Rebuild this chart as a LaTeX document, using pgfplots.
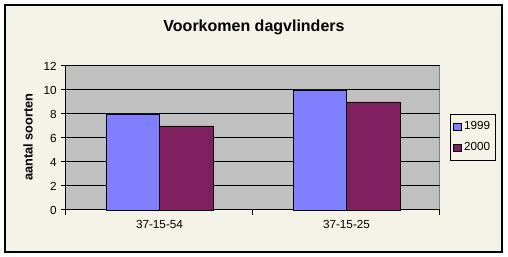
\documentclass[border=0pt]{standalone}
\usepackage{pgfplots}
\pgfplotsset{compat=1.18}
\usepackage{fontspec}
\setmainfont{Liberation Sans}
\definecolor{cream}{HTML}{F5F2E7}
\definecolor{plotgray}{HTML}{C0C0C0}
\definecolor{borgray}{HTML}{808080}
\definecolor{cA}{HTML}{8080FF}
\definecolor{cB}{HTML}{802060}
\begin{document}
\begin{tikzpicture}
\begin{axis}[
  set layers, clip=false,
  scale only axis, width=280.5pt, height=108pt,
  xmin=-0.5, xmax=1.5, ymin=0, ymax=12,
  ybar=0pt, bar width=40.1pt,
  axis x line=bottom, axis y line=left,
  axis line style={-, black, line width=0.75pt},
  ytick={0,2,...,12},
  xtick={-0.5,0.5,1.5}, xticklabels={},
  extra x ticks={0,1},
  extra x tick labels={37-15-54,37-15-25},
  extra x tick style={major tick length=0pt, ymajorgrids=false, xmajorgrids=false},
  tick align=outside, major tick length=3.5pt,
  tick style={black, line width=0.75pt},
  ymajorgrids, major grid style={black, line width=0.75pt},
  /pgf/number format/assume math mode=true,
  ticklabel style={font=\fontsize{8.8}{10}\selectfont},
  xticklabel style={yshift=-4pt},
  title={\textbf{Voorkomen dagvlinders}},
  title style={at={(0.5027,1.2153)}, anchor=center, font=\fontsize{12}{14}\selectfont},
  ylabel={\textbf{aantal soorten}},
  ylabel style={at={(-0.1016,0.507)}, anchor=center, font=\fontsize{9.6}{11}\selectfont},
  legend style={at={(1.0267,0.505)}, anchor=west, draw=black, line width=0.75pt, fill=cream,
    font=\fontsize{8.8}{10}\selectfont, inner xsep=2pt, inner ysep=3.5pt, row sep=4pt,
    legend cell align=left},
  legend image code/.code={\draw[#1, line width=0.6pt] (0pt,-2.8pt) rectangle (5.6pt,2.8pt);},
]
\begin{pgfonlayer}{axis background}
\fill[white] (rel axis cs:-0.17647,-0.32639) rectangle (rel axis cs:1.18182,1.45833);
\draw[black, line width=0.9pt, fill=cream] (rel axis cs:-0.16310,-0.29167) rectangle (rel axis cs:1.16578,1.42361);
\draw[borgray, line width=0.75pt, fill=plotgray] (rel axis cs:0,0) rectangle (rel axis cs:1,1);
\end{pgfonlayer}
\addplot[fill=cA, draw=black, line width=0.6pt] coordinates {(0,8) (1,10)};
\addplot[fill=cB, draw=black, line width=0.6pt] coordinates {(0,7) (1,9)};
\legend{1999,2000}
\end{axis}
\end{tikzpicture}
\end{document}
